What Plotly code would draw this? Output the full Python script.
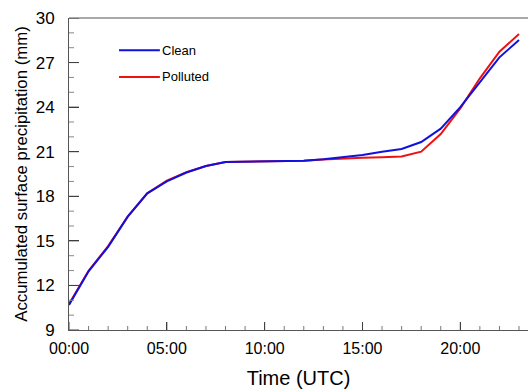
import plotly.graph_objects as go

hours = list(range(24))
tick_vals = [0, 5, 10, 15, 20]
tick_text = ["00:00", "05:00", "10:00", "15:00", "20:00"]
y_major = [9, 12, 15, 18, 21, 24, 27, 30]
series_names = ["Clean", "Polluted"]

clean = [10.69, 12.95, 14.6, 16.63, 18.2, 19.0, 19.6, 20.04, 20.3, 20.33,
         20.35, 20.37, 20.4, 20.5, 20.62, 20.78, 21.0, 21.18, 21.65, 22.55,
         24.0, 25.7, 27.35, 28.52]
polluted = [10.75, 12.98, 14.65, 16.63, 18.2, 19.05, 19.62, 20.04, 20.3, 20.33,
            20.35, 20.37, 20.4, 20.48, 20.55, 20.6, 20.63, 20.68, 21.0, 22.19,
            23.92, 25.94, 27.73, 28.92]

colors = {"Clean": "#1111dd", "Polluted": "#ee1111"}

fig = go.Figure()
fig.add_trace(go.Scatter(x=hours, y=polluted, mode="lines", name="Polluted",
                         line=dict(color=colors["Polluted"], width=2)))
fig.add_trace(go.Scatter(x=hours, y=clean, mode="lines", name="Clean",
                         line=dict(color=colors["Clean"], width=2)))

font_family = "Liberation Sans, Arial, sans-serif"
W, H = 528, 389
ML, MR, MT, MB = 69, 0, 18, 59
plot_w = W - ML - MR
plot_h = H - MT - MB

fig.update_layout(
    width=W, height=H,
    margin=dict(l=ML, r=MR, t=MT, b=MB),
    paper_bgcolor="white", plot_bgcolor="white",
    font=dict(family=font_family, color="black"),
    showlegend=False,
    xaxis=dict(range=[0, 23.46], tickmode="array", tickvals=tick_vals, ticktext=tick_text,
               ticks="inside", ticklen=8, tickcolor="#333333", tickwidth=1,
               showline=True, linecolor="#555555", linewidth=1,
               showgrid=False, zeroline=False,
               tickfont=dict(size=16), ticklabelstandoff=4,
               title=dict(text="Time (UTC)", font=dict(size=20), standoff=14)),
    yaxis=dict(range=[9, 30], tickmode="array", tickvals=y_major,
               ticks="inside", ticklen=10, tickcolor="#333333", tickwidth=1,
               showline=True, linecolor="#555555", linewidth=1,
               showgrid=False, zeroline=False,
               tickfont=dict(size=17), ticklabelstandoff=10,
               title=dict(text="Accumulated surface precipitation (mm)",
                          font=dict(size=16.8), standoff=3)),
)

# top frame line
fig.add_shape(type="line", xref="paper", yref="paper", x0=0, x1=1, y0=1, y1=1,
              line=dict(color="#555555", width=1))

# tick marks drawn as shapes (inside ticks)
for h in hours:
    major = h in tick_vals
    ln = 8 if major else 4
    fig.add_shape(type="line", xref="x", yref="paper", x0=h, x1=h,
                  y0=0, y1=ln / plot_h,
                  line=dict(color="#444444" if major else "#777777", width=1))
for v in range(9, 31):
    major = v in y_major
    ln = 10 if major else 5
    fig.add_shape(type="line", xref="paper", yref="y", x0=0, x1=ln / plot_w,
                  y0=v, y1=v,
                  line=dict(color="#444444" if major else "#888888", width=1))

# manual legend keys
legend_y = [0.897, 0.811]
for name, ly in zip(series_names, legend_y):
    fig.add_shape(type="line", xref="paper", yref="paper", x0=0.109, x1=0.198,
                  y0=ly, y1=ly, line=dict(color=colors[name], width=2))
    fig.add_annotation(xref="paper", yref="paper", x=0.199, y=ly, text=name,
                       showarrow=False, xanchor="left", yanchor="middle",
                       font=dict(size=13, family=font_family, color="black"))

fig.write_html("out.html")
